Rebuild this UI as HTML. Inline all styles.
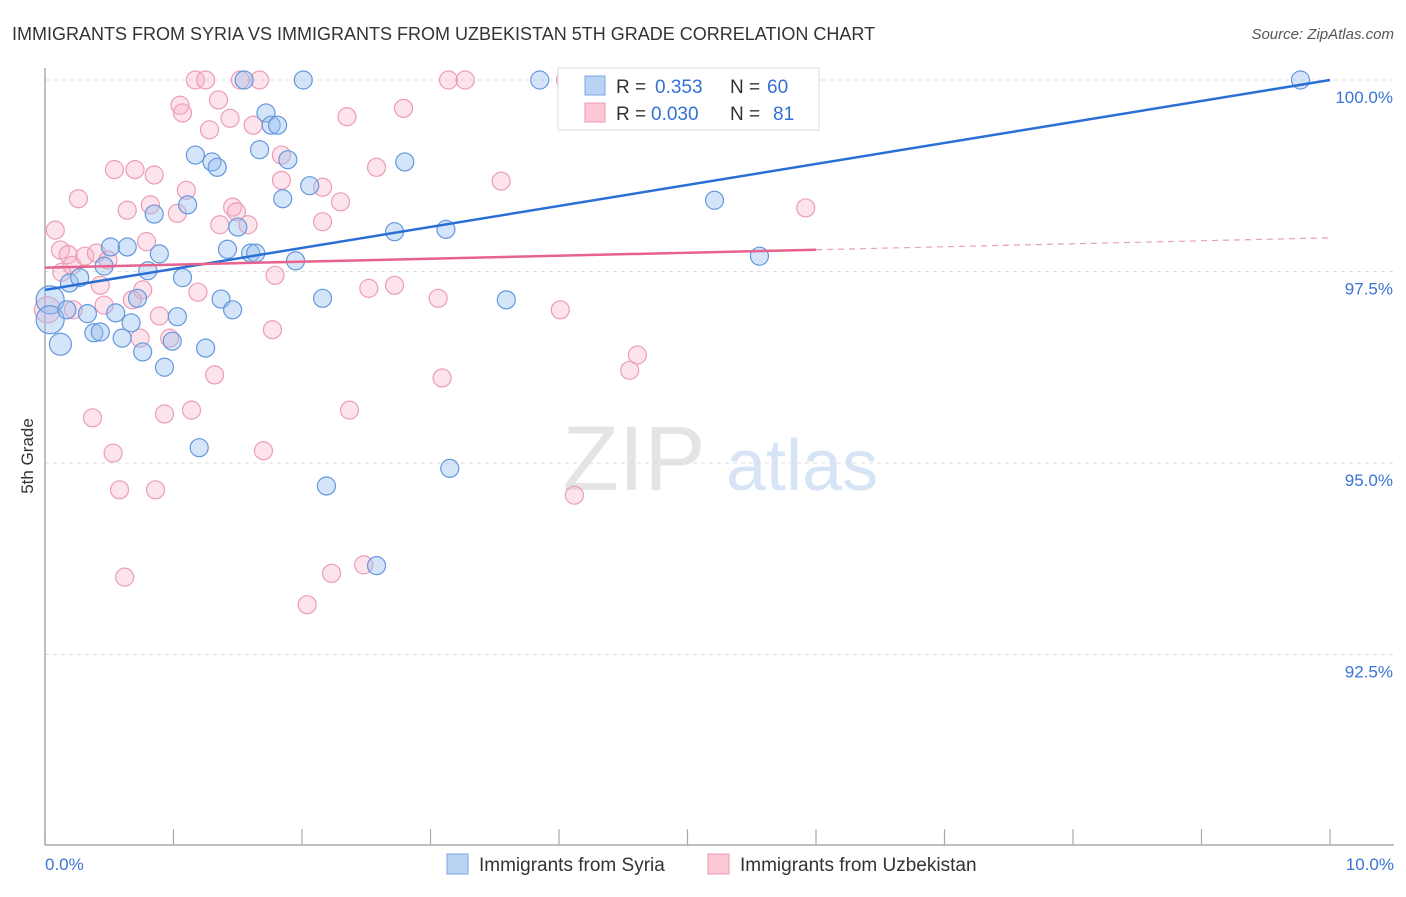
<!DOCTYPE html>
<html><head><meta charset="utf-8">
<style>
body{margin:0;background:#fff;font-family:"Liberation Sans",sans-serif;}
svg text{font-family:"Liberation Sans",sans-serif;}
</style></head>
<body>
<svg id="chart" width="1406" height="892" xmlns="http://www.w3.org/2000/svg">
<text x="12" y="40" font-size="18" fill="#333">IMMIGRANTS FROM SYRIA VS IMMIGRANTS FROM UZBEKISTAN 5TH GRADE CORRELATION CHART</text>
<text x="1394" y="39" font-size="15" fill="#555" text-anchor="end" font-style="italic">Source: ZipAtlas.com</text>
<text transform="translate(33,456) rotate(-90)" font-size="17" fill="#333" text-anchor="middle">5th Grade</text>
<g>
<text x="634" y="490" font-size="92" fill="#e4e4e4" text-anchor="middle" font-family="Liberation Serif">ZIP</text>
<text x="802" y="490" font-size="72" fill="#d6e4f5" text-anchor="middle">atlas</text>
</g>
<g id="grid"></g>
<g id="axes"></g>
<g id="pts"></g>
<g id="lines"></g>
<g>
<rect x="558" y="68" width="261" height="62" fill="#fff" stroke="#ddd"/>
<rect x="585" y="76" width="20" height="19" fill="#b9d3f5" stroke="#7aa6e3"/>
<rect x="585" y="103" width="20" height="19" fill="#fcc8d6" stroke="#ec9ab3"/>
<text x="616" y="93" font-size="19" fill="#333">R =</text>
<text x="655" y="93" font-size="19" fill="#3370d4">0.353</text>
<text x="730" y="93" font-size="19" fill="#333">N =</text>
<text x="767" y="93" font-size="19" fill="#3370d4">60</text>
<text x="616" y="120" font-size="19" fill="#333">R =</text>
<text x="651" y="120" font-size="19" fill="#3370d4">0.030</text>
<text x="730" y="120" font-size="19" fill="#333">N =</text>
<text x="773" y="120" font-size="19" fill="#3370d4">81</text>
</g>
<g>
<rect x="447" y="854" width="21" height="20" fill="#b9d3f5" stroke="#7aa6e3"/>
<text x="479" y="871" font-size="19" fill="#333">Immigrants from Syria</text>
<rect x="708" y="854" width="21" height="20" fill="#fcc8d6" stroke="#ec9ab3"/>
<text x="740" y="871" font-size="19" fill="#333">Immigrants from Uzbekistan</text>
</g>
</svg>
<script>
const syriaX=[0.04,0.04,0.12,0.17,0.19,0.27,0.33,0.38,0.43,0.46,0.51,0.55,0.60,0.64,0.67,0.72,0.76,0.80,0.85,0.89,0.93,0.99,1.03,1.07,1.11,1.17,1.20,1.25,1.30,1.34,1.37,1.42,1.46,1.50,1.55,1.60,1.64,1.67,1.72,1.76,1.81,1.85,1.89,1.95,2.01,2.06,2.16,2.19,2.58,2.72,2.80,3.12,3.15,3.59,3.85,5.21,5.56,5.82,9.77];
const syriaY=[97.13,96.87,96.55,97.00,97.35,97.42,96.95,96.70,96.71,97.57,97.82,96.96,96.63,97.82,96.83,97.15,96.45,97.51,98.25,97.73,96.25,96.59,96.91,97.42,98.37,99.02,95.20,96.50,98.93,98.86,97.14,97.79,97.00,98.08,100,97.74,97.74,99.09,99.57,99.41,99.41,98.45,98.96,97.64,100,98.62,97.15,94.70,93.66,98.02,98.93,98.05,94.93,97.13,100,98.43,97.70,100,100];
const uzbX=[0.02,0.08,0.12,0.13,0.18,0.21,0.22,0.26,0.31,0.37,0.40,0.43,0.46,0.49,0.53,0.54,0.58,0.62,0.64,0.68,0.70,0.74,0.76,0.79,0.82,0.85,0.86,0.89,0.93,0.97,1.03,1.05,1.07,1.10,1.14,1.17,1.19,1.25,1.28,1.32,1.35,1.36,1.44,1.46,1.49,1.52,1.58,1.62,1.67,1.70,1.77,1.79,1.84,1.84,2.04,2.16,2.16,2.23,2.30,2.35,2.37,2.48,2.52,2.58,2.72,2.79,3.06,3.09,3.14,3.27,3.55,4.01,4.05,4.12,4.55,4.61,5.92];
const uzbY=[97.00,98.04,97.78,97.49,97.72,97.58,97.00,98.45,97.70,95.59,97.74,97.32,97.06,97.65,95.13,98.83,94.65,93.51,98.30,97.13,98.83,96.63,97.26,97.89,98.37,98.76,94.65,96.92,95.64,96.63,98.26,99.67,99.57,98.56,95.69,100,97.23,100,99.35,96.15,99.74,98.11,99.50,98.34,98.28,100,98.11,99.41,100,95.16,96.74,97.45,99.02,98.69,93.15,98.60,98.15,93.56,98.41,99.52,95.69,93.67,97.28,98.86,97.32,99.63,97.15,96.11,100,100,98.68,97.00,100,94.58,96.21,96.41,98.33];
const yTicks=[100,97.5,95,92.5];
const yTickLabels=["100.0%","97.5%","95.0%","92.5%"];
const xTicks=[0,1,2,3,4,5,6,7,8,9,10];
const syriaTrend=[97.26,100];
const uzbTrend=[97.55,97.94];
const uzbSolidEnd=6.0;

const NS="http://www.w3.org/2000/svg";
const sx=v=>45+v*128.5;
const sy=v=>80+(100-v)*76.6;
function mk(tag,attrs,parent){const e=document.createElementNS(NS,tag);for(const k in attrs)e.setAttribute(k,attrs[k]);parent.appendChild(e);return e;}
const grid=document.getElementById('grid'),axes=document.getElementById('axes'),pts=document.getElementById('pts'),lines=document.getElementById('lines');
yTicks.forEach((t,i)=>{
 const l=mk('line',{x1:45,x2:1394,y1:sy(t),y2:sy(t),stroke:'#ddd','stroke-dasharray':'4,4'},grid);
 
 
 const tx=mk('text',{x:1393,y:sy(t)+23,'font-size':17,fill:'#3a74d4','text-anchor':'end'},axes);
 tx.textContent=yTickLabels[i];
 
 
});
const ya=mk('line',{x1:45,x2:45,y1:68,y2:845,stroke:'#aaa','stroke-width':1.5},axes);


const xa=mk('line',{x1:45,x2:1394,y1:845,y2:845,stroke:'#aaa','stroke-width':1.5},axes);


xTicks.forEach(t=>{
 const k=mk('line',{x1:sx(t),x2:sx(t),y1:829,y2:845,stroke:'#aaa','stroke-width':1.2},axes);
 
 
});
const xl0=mk('text',{x:45,y:870,'font-size':17,fill:'#3a74d4'},axes);xl0.textContent='0.0%';


const xl1=mk('text',{x:1394,y:870,'font-size':17,fill:'#3a74d4','text-anchor':'end'},axes);xl1.textContent='10.0%';


uzbX.forEach((x,i)=>{
 const c=mk('circle',{cx:sx(x),cy:sy(uzbY[i]),r:i===0?13:9,fill:'rgba(248,175,198,0.35)',stroke:'#eb9db6','stroke-width':1.2},pts);
 
 
});
syriaX.forEach((x,i)=>{
 const c=mk('circle',{cx:sx(x),cy:sy(syriaY[i]),r:i<2?14:(i===2?11:9),fill:'rgba(150,190,240,0.4)',stroke:'#6497dd','stroke-width':1.2},pts);
 
 
});
const bl=mk('line',{x1:sx(0),y1:sy(syriaTrend[0]),x2:sx(10),y2:sy(syriaTrend[1]),stroke:'#2a6fd6','stroke-width':2.5},lines);


const uy=x=>uzbTrend[0]+(uzbTrend[1]-uzbTrend[0])*x/10;
const pl=mk('line',{x1:sx(0),y1:sy(uy(0)),x2:sx(uzbSolidEnd),y2:sy(uy(uzbSolidEnd)),stroke:'#e8628e','stroke-width':2.5},lines);


const pd=mk('line',{x1:sx(uzbSolidEnd),y1:sy(uy(uzbSolidEnd)),x2:sx(10),y2:sy(uy(10)),stroke:'#e8a0b8','stroke-width':1.2,'stroke-dasharray':'6,5'},lines);


</script>
</body></html>
